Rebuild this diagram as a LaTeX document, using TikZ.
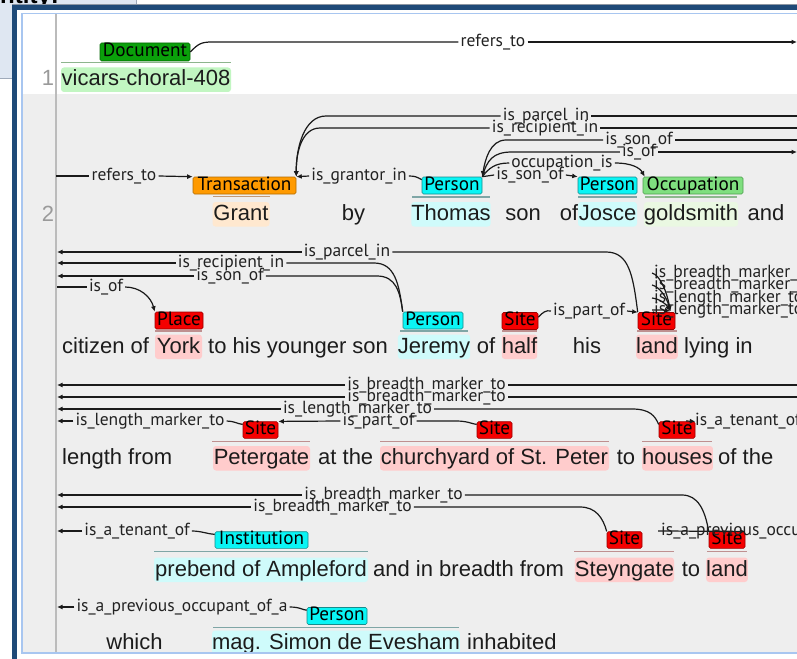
\documentclass[tikz,border=0pt]{standalone}
\usepackage{fontspec}
\setmainfont{Liberation Sans}
\newfontfamily\lblfont{PT Sans}
\usetikzlibrary{arrows.meta}

\newcommand\txtsize{\fontsize{22}{24}\selectfont}
\newcommand\lblsize{\fontsize{17.5}{18}\selectfont}
\newcommand\boxsize{\fontsize{19.2}{19}\selectfont}

% window chrome
\definecolor{frameblue}{HTML}{1F4A78}
\definecolor{framegray}{HTML}{8C96A3}
\definecolor{panelline}{HTML}{A8C6F0}
\definecolor{tabbg}{HTML}{DFE7F2}
\definecolor{tabedge}{HTML}{9FAABA}
\definecolor{rowgray}{HTML}{EEEEEE}
\definecolor{numline}{HTML}{BBBBBB}
\definecolor{numcol}{HTML}{9A9A9A}
% text and arcs
\definecolor{txtcol}{HTML}{1C1C1C}
\definecolor{labcol}{HTML}{222222}
\definecolor{arccol}{HTML}{1A1A1A}
% entity types: label fill, label border, span background, underline
\definecolor{docfill}{HTML}{0AA00A}\definecolor{docdraw}{HTML}{066A06}
\definecolor{docbg}{HTML}{C2F6C2}\definecolor{docul}{HTML}{8DB58D}
\definecolor{trfill}{HTML}{FF9A00}\definecolor{trdraw}{HTML}{B26B00}
\definecolor{trbg}{HTML}{FFE8CF}\definecolor{trul}{HTML}{C49A74}
\definecolor{perfill}{HTML}{0AF5F5}\definecolor{perdraw}{HTML}{168C8C}
\definecolor{perbg}{HTML}{CFFBFB}\definecolor{perul}{HTML}{7FA6A6}
\definecolor{occfill}{HTML}{7FDF7F}\definecolor{occdraw}{HTML}{4E9E4E}
\definecolor{occbg}{HTML}{EAF8E2}\definecolor{occul}{HTML}{8DB88D}
\definecolor{sitefill}{HTML}{F50000}\definecolor{sitedraw}{HTML}{9A0000}
\definecolor{sitebg}{HTML}{FFCCCC}\definecolor{siteul}{HTML}{BF9090}

\begin{document}
\begin{tikzpicture}[x=1pt,y=-1pt,
  word/.style={anchor=base, inner xsep=0pt, inner ysep=1.5pt, text height=17pt,
    text depth=4.5pt, font=\txtsize, text=txtcol},
  wordw/.style={word, anchor=base west},
  span/.style={word, fill=#1, rounded corners=3pt},
  numtxt/.style={word, text=numcol},
  lbl/.style={rounded corners=1.5pt, inner sep=0pt, minimum height=17pt,
    text height=13pt, text depth=3.6pt, font=\lblfont\boxsize, text=black,
    line width=0.6pt},
  doclbl/.style={lbl, fill=docfill, draw=docdraw},
  trlbl/.style={lbl, fill=trfill, draw=trdraw},
  perlbl/.style={lbl, fill=perfill, draw=perdraw},
  occlbl/.style={lbl, fill=occfill, draw=occdraw},
  sitelbl/.style={lbl, fill=sitefill, draw=sitedraw, minimum height=16pt},
  alab/.style={inner xsep=2pt, inner ysep=0.5pt, text height=12pt, text depth=3.5pt,
    font=\lblfont\lblsize, text=labcol},
  alabw/.style={alab, anchor=west},
  arc/.style={draw=arccol, line width=1.2pt},
  arr/.style={arc, -{Latex[length=5.5pt,width=5pt]}},
  ul/.style={line width=1.2pt, draw=#1}]

\useasboundingbox (0,0) rectangle (797,658);

% ---- window chrome ----
\fill[white] (0,0) rectangle (797,658);
\fill[tabbg] (0,-5) rectangle (136,78);
\draw[tabedge, line width=0.8pt] (136,-5) -- (136,78) -- (-2,78);
\node[font=\bfseries\fontsize{24}{24}\selectfont, anchor=base west, inner sep=0pt]
  (tabtitle) at (-16,3.5) {Entity:};
\fill[frameblue] (12,5) rectangle (800,10);
\fill[frameblue] (12,5) rectangle (17,660);
\draw[framegray, line width=0.8pt] (12,4.4) -- (800,4.4);
\fill[white] (17,10) rectangle (800,660);
\fill[rowgray] (23,94) rectangle (800,653);
\draw[numline, line width=1.5pt] (56,14) -- (56,653);
\node[numtxt] (ln1) at (48,86) {1};
\node[numtxt] (ln2) at (48,221) {2};

% ---- sentence 1 ----
\node[span=docbg, minimum width=170] (s-doc) at (146,86) {vicars-choral-408};
\draw[ul=docul] (61,62.5) -- (231,62.5);
\node[doclbl, minimum width=90, minimum height=18pt] (l-doc) at (145,52) {Document};
\node[alab] (a-ref1) at (493,42) {refers\_to};
\coordinate (ref1-r) at (797,42);
\draw[arc] (l-doc.east) .. controls (198,44) and (201,42) .. (212,42) -- (a-ref1.west);
\draw[arr] (a-ref1.east) -- (ref1-r);

% ---- sentence 2, first line ----
\node[span=trbg, minimum width=57] (s-grant) at (241,220.5) {Grant};
\node[word] (w-by) at (353.5,220.5) {by};
\node[span=perbg, minimum width=78] (s-thomas) at (451,220.5) {Thomas};
\node[word] (w-son) at (523,220.5) {son};
\node[word] (w-of1) at (569,220.5) {of};
\node[span=perbg, minimum width=59] (s-josce) at (607.5,220.5) {Josce};
\node[span=occbg, minimum width=92] (s-gold) at (691,220.5) {goldsmith};
\node[word] (w-and) at (766,220.5) {and};
\draw[ul=trul] (213,196.5) -- (270,196.5);
\draw[ul=perul] (412,197) -- (490,197);
\draw[ul=perul] (578,197) -- (637,197);
\draw[ul=occul] (645,197) -- (737,197);
\node[trlbl, minimum width=103] (l-tr) at (244.5,185.5) {Transaction};
\node[perlbl, minimum width=60] (l-pT) at (452,185.5) {Person};
\node[perlbl, minimum width=59] (l-pJ) at (607.5,185.5) {Person};
\node[occlbl, minimum width=100] (l-occ) at (693,185.5) {Occupation};

% refers_to
\coordinate (ref2-l) at (56,176);
\node[alab] (a-ref2) at (124,176) {refers\_to};
\draw[arc] (ref2-l) -- (a-ref2.west);
\draw[arr] (a-ref2.east) -- (l-tr.north west);
% is_grantor_in
\node[alab] (a-gr) at (359,176) {is\_grantor\_in};
\draw[arc] ([yshift=-3pt]l-pT.north west) .. controls (417,177) and (415,176) .. (a-gr.east);
\draw[arr] (a-gr.west) -- (l-tr.north east);
% is_parcel_in, is_recipient_in (continued from the next line)
\coordinate (pi-r) at (797,116);
\node[alab] (a-pi1) at (546,116) {is\_parcel\_in};
\draw[arc] (pi-r) -- (a-pi1.east);
\draw[arr] (a-pi1.west) -- (326,116) .. controls (304,116) and (296,148) .. (l-tr.north east);
\coordinate (ri-r) at (797,128);
\node[alab] (a-ri1) at (545,128) {is\_recipient\_in};
\draw[arc] (ri-r) -- (a-ri1.east);
\draw[arr] (a-ri1.west) -- (320,128) .. controls (302,128) and (296,152) .. (l-tr.north east);
% is_son_of into Thomas
\coordinate (so-r) at (797,140);
\node[alab] (a-so1) at (639,140) {is\_son\_of};
\draw[arc] (so-r) -- (a-so1.east);
\draw[arr] (a-so1.west) -- (506,140) .. controls (490,140) and (485,160) .. (l-pT.north east);
% is_of out of Thomas
\coordinate (of-r) at (797,152);
\node[alab] (a-of1) at (639,152) {is\_of};
\draw[arc] (l-pT.north east) .. controls (487,160) and (493,152) .. (512,152) -- (a-of1.west);
\draw[arr] (a-of1.east) -- (of-r);
% occupation_is
\node[alab] (a-occ) at (562,163) {occupation\_is};
\draw[arc] (l-pT.north east) .. controls (489,168) and (495,163) .. (a-occ.west);
\draw[arr] (a-occ.east) .. controls (632,163) and (640,168) .. ([xshift=2pt]l-occ.north west);
% is_son_of Thomas -> Josce
\node[alab] (a-so2) at (530,175) {is\_son\_of};
\draw[arc] (l-pT.north east) .. controls (487,176) .. (a-so2.west);
\draw[arr] (a-so2.east) -- (l-pJ.north west);

% ---- sentence 2, second line ----
\node[wordw] (w-cit) at (62,353) {citizen of};
\node[span=sitebg, minimum width=47] (s-york) at (178.5,353) {York};
\node[wordw] (w-tohis) at (208,353) {to his younger son};
\node[span=perbg, minimum width=68] (s-jer) at (434,353) {Jeremy};
\node[word] (w-of2) at (486,353) {of};
\node[span=sitebg, minimum width=35] (s-half) at (519.5,353) {half};
\node[word] (w-his) at (587,353) {his};
\node[span=sitebg, minimum width=40] (s-land) at (657,353) {land};
\node[wordw] (w-lying) at (684,353) {lying in};
\draw[ul=siteul] (155,331) -- (202,331);
\draw[ul=perul] (400,331) -- (468,331);
\draw[ul=siteul] (502,331) -- (537,331);
\draw[ul=siteul] (637,331) -- (677,331);
\node[sitelbl, minimum width=48, minimum height=17pt] (l-place) at (179,320.5) {Place};
\node[perlbl, minimum width=60] (l-pJer) at (433,320.5) {Person};
\node[sitelbl, minimum width=36, minimum height=17pt] (l-half) at (520,321) {Site};
\node[sitelbl, minimum width=37, minimum height=17pt] (l-land) at (656.5,321) {Site};

% is_parcel_in from land
\coordinate (pi-l) at (57,252);
\node[alab] (a-pi2) at (347,252) {is\_parcel\_in};
\draw[arc] (l-land.north west) .. controls (633,275) and (629,252) .. (606,252) -- (a-pi2.east);
\draw[arr] (a-pi2.west) -- (pi-l);
% is_recipient_in, is_son_of from Jeremy
\coordinate (ri-l) at (57,263);
\node[alab] (a-ri2) at (231,263) {is\_recipient\_in};
\draw[arc] (l-pJer.north west) .. controls (399,284) and (395,263) .. (374,263) -- (a-ri2.east);
\draw[arr] (a-ri2.west) -- (ri-l);
\coordinate (so-l) at (57,276);
\node[alab] (a-so3) at (230,276) {is\_son\_of};
\draw[arc] (l-pJer.north west) .. controls (400,292) and (396,276) .. (377,276) -- (a-so3.east);
\draw[arr] (a-so3.west) -- (so-l);
% is_of into York
\coordinate (of-l) at (57,287);
\node[alab] (a-of2) at (106,287) {is\_of};
\draw[arc] (of-l) -- (a-of2.west);
\draw[arr] (a-of2.east) .. controls (140,287) and (151,297) .. (l-place.north west);
% is_part_of half -> land
\node[alab] (a-po1) at (589,311) {is\_part\_of};
\draw[arc] ([yshift=-5pt]l-half.north east) .. controls (543,312) and (546,310) .. (a-po1.west);
\draw[arr] (a-po1.east) -- (l-land.north west);
% marker arcs arriving at land
\coordinate (landtip) at ([xshift=-5pt,yshift=1pt]l-land.north east);
\node[alabw] (a-bmA) at (652,273) {is\_breadth\_marker\_to};
\node[alabw] (a-bmB) at (652,285) {is\_breadth\_marker\_to};
\node[alabw] (a-lmA) at (652,298) {is\_length\_marker\_to};
\node[alabw] (a-lmB) at (652,310) {is\_length\_marker\_to};
\draw[arr] (a-bmA.west) .. controls (660,275) and (667,292) .. (landtip);
\draw[arr] (a-bmB.west) .. controls (660,287) and (667,298) .. (landtip);
\draw[arr] (a-lmA.west) .. controls (660,299) and (666,304) .. (landtip);
\draw[arr] (a-lmB.west) .. controls (658,310) and (664,310) .. (landtip);

% ---- sentence 2, third line ----
\node[wordw] (w-len) at (62,464.5) {length from};
\node[span=sitebg, minimum width=97] (s-pet) at (261.5,464.5) {Petergate};
\node[wordw] (w-atthe) at (318,464.5) {at the};
\node[span=sitebg, minimum width=229] (s-church) at (494.5,464.5) {churchyard of St. Peter};
\node[word] (w-to1) at (626,464.5) {to};
\node[span=sitebg, minimum width=69] (s-houses) at (677.5,464.5) {houses};
\node[wordw] (w-ofthe) at (718,464.5) {of the};
\draw[ul=siteul] (212,441.5) -- (310,441.5);
\draw[ul=siteul] (380,441.5) -- (609,441.5);
\draw[ul=siteul] (642,441.5) -- (712,441.5);
\node[sitelbl, minimum width=35] (l-pet) at (260.5,430) {Site};
\node[sitelbl, minimum width=35] (l-church) at (494.5,430) {Site};
\node[sitelbl, minimum width=36] (l-houses) at (677,430) {Site};

% breadth markers passing through
\coordinate (bmC1-r) at (797,385);
\coordinate (bmC1-l) at (57,385);
\node[alab] (a-bmC1) at (426.5,385) {is\_breadth\_marker\_to};
\draw[arc] (bmC1-r) -- (a-bmC1.east);
\draw[arr] (a-bmC1.west) -- (bmC1-l);
\coordinate (bmC2-r) at (797,397);
\coordinate (bmC2-l) at (57,397);
\node[alab] (a-bmC2) at (426.5,397) {is\_breadth\_marker\_to};
\draw[arc] (bmC2-r) -- (a-bmC2.east);
\draw[arr] (a-bmC2.west) -- (bmC2-l);
% is_length_marker_to from houses
\coordinate (lmC1-l) at (57,409);
\node[alab] (a-lmC1) at (357.5,409) {is\_length\_marker\_to};
\draw[arc] ([yshift=-3pt]l-houses.north west) .. controls (655,416) and (650,409) .. (632,409) -- (a-lmC1.east);
\draw[arr] (a-lmC1.west) -- (lmC1-l);
% is_length_marker_to from Petergate
\coordinate (lmC2-l) at (57,421);
\node[alab] (a-lmC2) at (150,421) {is\_length\_marker\_to};
\draw[arc] ([yshift=-3pt]l-pet.north west) .. controls (238,424) and (234,421) .. (a-lmC2.east);
\draw[arr] (a-lmC2.west) -- (lmC2-l);
% is_part_of churchyard -> Petergate
\node[alab] (a-po2) at (378.5,421) {is\_part\_of};
\draw[arc] ([yshift=-3pt]l-church.north west) .. controls (472,424) and (468,421) .. (456,421) -- (a-po2.east);
\draw[arr] (a-po2.west) -- (l-pet.north east);
% is_a_tenant_of arriving at houses
\coordinate (tenC-l) at (686,421);
\draw[arr] (tenC-l) -- (l-houses.north east);
\node[alabw] (a-tenC) at (693,421) {is\_a\_tenant\_of};

% ---- sentence 2, fourth line ----
\node[span=perbg, minimum width=214] (s-preb) at (261,576) {prebend of Ampleford};
\node[wordw] (w-andin) at (373,576) {and in breadth from};
\node[span=sitebg, minimum width=99] (s-stey) at (624.5,576) {Steyngate};
\node[word] (w-to2) at (691,576) {to};
\node[span=sitebg, minimum width=40] (s-land2) at (727,576) {land};
\draw[ul=perul] (154,551.5) -- (368,551.5);
\draw[ul=siteul] (574,551.5) -- (674,551.5);
\draw[ul=siteul] (707,551.5) -- (747,551.5);
\node[perlbl, minimum width=93, minimum height=16pt] (l-inst) at (261.5,540) {Institution};
\node[sitelbl, minimum width=35] (l-stey) at (624.5,540) {Site};
\node[sitelbl, minimum width=36] (l-land2) at (727,540) {Site};

% breadth markers from land and Steyngate
\coordinate (bmD1-l) at (57,495);
\node[alab] (a-bmD1) at (383.5,495) {is\_breadth\_marker\_to};
\draw[arc] (a-bmD1.east) -- (682,495) .. controls (698,495) and (705,510) .. (l-land2.north west);
\draw[arr] (a-bmD1.west) -- (bmD1-l);
\coordinate (bmD2-l) at (57,507);
\node[alab] (a-bmD2) at (332.5,507) {is\_breadth\_marker\_to};
\draw[arc] (a-bmD2.east) -- (580,507) .. controls (596,507) and (603,518) .. (l-stey.north west);
\draw[arr] (a-bmD2.west) -- (bmD2-l);
% is_a_tenant_of from Institution
\coordinate (tenD-l) at (57,531);
\node[alab] (a-tenD) at (137,531) {is\_a\_tenant\_of};
\draw[arc] (a-tenD.east) .. controls (201,531) and (208,534) .. ([yshift=-3pt]l-inst.north west);
\draw[arr] (a-tenD.west) -- (tenD-l);
% is_a_previous_occupant_of_a arriving at land
\coordinate (prevD-l) at (658,531);
\draw[arr] (prevD-l) -- (l-land2.north east);
\node[alabw] (a-prevD) at (659,531) {is\_a\_previous\_occupant\_of\_a};

% ---- sentence 2, fifth line ----
\node[word] (w-which) at (134.5,649) {which};
\node[span=perbg, minimum width=246] (s-simon) at (336,649) {mag. Simon de Evesham};
\node[wordw] (w-inh) at (467,649) {inhabited};
\draw[ul=perul] (213,627.5) -- (459,627.5);
\node[perlbl, minimum width=60] (l-simon) at (337,616) {Person};
\coordinate (prevE-l) at (57,607);
\node[alab] (a-prevE) at (182,607) {is\_a\_previous\_occupant\_of\_a};
\draw[arc] (a-prevE.east) .. controls (300,607) and (303,610) .. ([yshift=-3pt]l-simon.north west);
\draw[arr] (a-prevE.west) -- (prevE-l);

% ---- panel border, drawn last so it trims the bottom line ----
\fill[white] (17,653.5) rectangle (800,660);
\fill[frameblue] (12,600) rectangle (17,660);
\draw[panelline, line width=1.6pt] (800,13.6) -- (22,13.6) -- (22,653) -- (800,653);
\end{tikzpicture}
\end{document}
